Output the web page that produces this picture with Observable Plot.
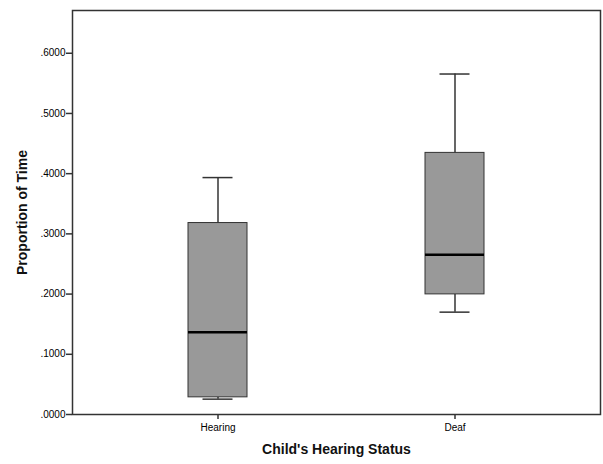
<!DOCTYPE html>
<html>
<head>
<meta charset="utf-8">
<script src="https://cdn.jsdelivr.net/npm/d3@7"></script>
<script src="https://cdn.jsdelivr.net/npm/@observablehq/plot@0.6"></script>
<style>
  body { margin: 0; background: #fff; }
  #chart { width: 603px; height: 464px; }
</style>
</head>
<body>
<div id="chart"></div>
<script>
const groups = ["Hearing", "Deaf"];
const whiskerLow = [0.0255, 0.170];
const q1 = [0.0285, 0.1995];
const median = [0.1365, 0.2655];
const q3 = [0.318, 0.4345];
const whiskerHigh = [0.3935, 0.5655];
const yTicks = [0, 0.1, 0.2, 0.3, 0.4, 0.5, 0.6];

const data = groups.map((g, i) => ({
  group: g, lo: whiskerLow[i], q1: q1[i], med: median[i], q3: q3[i], hi: whiskerHigh[i]
}));

const fmt = d => d3.format(".4f")(d).replace(/^0/, "");

const chart = Plot.plot({
  width: 603,
  height: 464,
  marginLeft: 72,
  marginRight: 3,
  marginTop: 10,
  marginBottom: 50,
  style: { fontFamily: "Liberation Sans, Arial, sans-serif", fontSize: "10px", background: "#fff", color: "#000" },
  x: { domain: groups, paddingInner: 0.752, paddingOuter: 0.4876, label: null },
  y: { domain: [0, 0.671], label: null },
  marks: [
    Plot.ruleX(data, { x: "group", y1: "lo", y2: "q1", stroke: "#000", strokeWidth: 1.2 }),
    Plot.ruleX(data, { x: "group", y1: "q3", y2: "hi", stroke: "#000", strokeWidth: 1.2 }),
    Plot.tickY(data, { x: "group", y: "hi", stroke: "#333", strokeWidth: 1.5, insetLeft: 14.5, insetRight: 14.5 }),
    Plot.tickY(data, { x: "group", y: "lo", stroke: "#333", strokeWidth: 1.5, insetLeft: 14.5, insetRight: 14.5 }),
    Plot.barY(data, { x: "group", y1: "q1", y2: "q3", fill: "#999999", stroke: "#333", strokeWidth: 1 }),
    Plot.tickY(data, { x: "group", y: "med", stroke: "#000", strokeWidth: 2.5 }),
    Plot.axisY({ ticks: yTicks, tickFormat: fmt, tickSize: 6, tickPadding: 1, fontSize: 10, stroke: "#333", strokeWidth: 1.5 }),
    Plot.axisX({ tickSize: 5, tickPadding: 4, fontSize: 10, stroke: "#333", strokeWidth: 1.5 }),
    Plot.frame({ stroke: "#333", strokeWidth: 1.5 }),
    Plot.text(["Child's Hearing Status"], { frameAnchor: "bottom", dy: 39, fontSize: 14, fontWeight: "bold", fill: "#111" }),
    Plot.text(["Proportion of Time"], { frameAnchor: "left", textAnchor: "middle", dx: -50, rotate: -90, fontSize: 14, fontWeight: "bold", fill: "#111" })
  ]
});
document.getElementById("chart").appendChild(chart);
</script>
</body>
</html>
